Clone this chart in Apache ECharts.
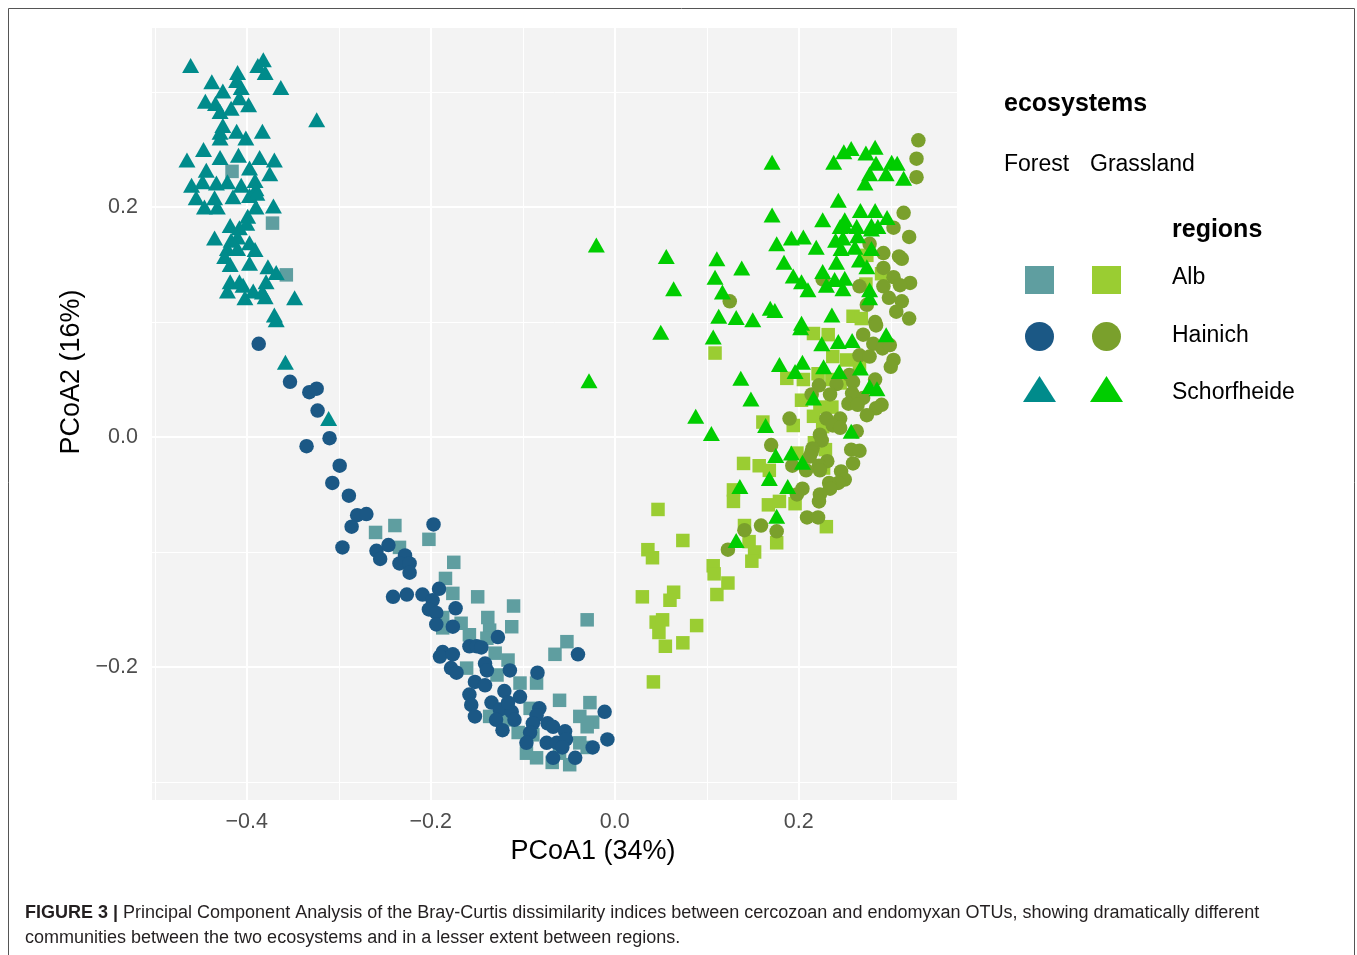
<!DOCTYPE html>
<html><head><meta charset="utf-8">
<script src="https://cdn.jsdelivr.net/npm/echarts@6/dist/echarts.min.js"></script>
<style>html,body{margin:0;padding:0;background:#fff}#c{width:1357px;height:955px}</style>
</head><body><div id="c"></div>
<script>
// ---- axis ticks ----
const xMajorTicks = [-0.4, -0.2, 0, 0.2];
const xMinorTicks = [-0.5, -0.3, -0.1, 0.1, 0.3];
const yMajorTicks = [-0.2, 0, 0.2];
const yMinorTicks = [-0.3, -0.1, 0.1, 0.3];
const xLimits = [-0.503, 0.372];
const yLimits = [-0.3157, 0.3557];

// ---- data: [PCoA1, PCoA2] ----
const forestAlb = [
[-0.416,0.231],[-0.372,0.186],[-0.357,0.141],
[-0.260,-0.083],[-0.239,-0.077],[-0.234,-0.096],[-0.202,-0.089],[-0.175,-0.109],[-0.184,-0.123],[-0.176,-0.136],[-0.149,-0.139],[-0.187,-0.157],[-0.187,-0.166],[-0.167,-0.162],[-0.158,-0.172],[-0.138,-0.157],[-0.136,-0.168],[-0.139,-0.175],[-0.130,-0.188],[-0.161,-0.201],
[-0.110,-0.147],[-0.112,-0.165],[-0.030,-0.159],[-0.052,-0.178],[-0.065,-0.189],[-0.116,-0.194],[-0.128,-0.207],[-0.103,-0.214],[-0.085,-0.214],[-0.060,-0.229],[-0.027,-0.231],[-0.038,-0.243],[-0.024,-0.248],[-0.030,-0.252],[-0.092,-0.236],[-0.136,-0.243],[-0.117,-0.246],[-0.105,-0.257],[-0.089,-0.259],[-0.085,-0.279],[-0.068,-0.283],[-0.049,-0.285],[-0.060,-0.275],[-0.038,-0.266],[-0.030,-0.270],[-0.096,-0.275]
];
const forestHainich = [
[-0.387,0.081],[-0.353,0.048],[-0.332,0.039],[-0.324,0.042],[-0.323,0.023],[-0.310,-0.001],[-0.335,-0.008],[-0.299,-0.025],[-0.307,-0.040],[-0.289,-0.051],[-0.280,-0.068],[-0.270,-0.067],[-0.286,-0.078],[-0.197,-0.076],[-0.296,-0.096],[-0.259,-0.099],[-0.246,-0.094],[-0.255,-0.106],[-0.228,-0.103],[-0.234,-0.110],[-0.223,-0.110],[-0.223,-0.118],[-0.191,-0.132],[-0.241,-0.139],[-0.226,-0.137],[-0.209,-0.137],[-0.198,-0.142],[-0.202,-0.150],[-0.194,-0.153],[-0.173,-0.149],[-0.194,-0.163],[-0.176,-0.165],[-0.158,-0.182],[-0.150,-0.182],[-0.145,-0.183],[-0.127,-0.174],[-0.187,-0.187],[-0.190,-0.191],[-0.176,-0.189],[-0.141,-0.197],[-0.139,-0.203],[-0.178,-0.201],[-0.172,-0.205],
[-0.114,-0.203],[-0.084,-0.205],[-0.040,-0.189],[-0.152,-0.213],[-0.141,-0.216],[-0.158,-0.224],[-0.156,-0.233],[-0.152,-0.243],[-0.120,-0.221],[-0.103,-0.226],[-0.134,-0.231],[-0.125,-0.237],[-0.112,-0.239],[-0.116,-0.231],[-0.109,-0.246],[-0.129,-0.246],[-0.122,-0.255],[-0.082,-0.236],[-0.085,-0.242],[-0.089,-0.249],[-0.073,-0.249],[-0.067,-0.252],[-0.092,-0.257],[-0.096,-0.266],[-0.074,-0.266],[-0.063,-0.266],[-0.054,-0.256],[-0.053,-0.263],[-0.057,-0.270],[-0.067,-0.279],[-0.043,-0.279],[-0.024,-0.270],[-0.011,-0.239],[-0.008,-0.263]
];
const forestSchorfheide = [
[-0.461,0.323],[-0.382,0.328],[-0.388,0.323],[-0.380,0.317],[-0.410,0.317],[-0.438,0.309],[-0.411,0.310],[-0.406,0.304],[-0.426,0.301],[-0.363,0.304],[-0.445,0.292],[-0.434,0.290],[-0.408,0.295],[-0.398,0.289],[-0.417,0.286],[-0.429,0.283],[-0.426,0.271],[-0.429,0.265],[-0.411,0.266],[-0.401,0.260],[-0.383,0.266],[-0.429,0.260],[-0.447,0.250],[-0.465,0.241],[-0.429,0.243],[-0.409,0.245],[-0.386,0.243],[-0.370,0.241],[-0.444,0.232],[-0.397,0.234],[-0.375,0.229],[-0.460,0.219],[-0.448,0.222],[-0.433,0.221],[-0.421,0.222],[-0.406,0.219],[-0.391,0.223],[-0.390,0.216],[-0.324,0.276],
[-0.455,0.208],[-0.446,0.200],[-0.435,0.208],[-0.432,0.200],[-0.415,0.209],[-0.397,0.210],[-0.389,0.212],[-0.390,0.200],[-0.371,0.201],[-0.399,0.192],[-0.400,0.186],[-0.418,0.184],[-0.408,0.182],[-0.435,0.173],[-0.410,0.174],[-0.417,0.171],[-0.397,0.169],[-0.421,0.164],[-0.391,0.163],[-0.410,0.164],[-0.424,0.157],[-0.418,0.150],[-0.397,0.151],[-0.377,0.148],[-0.368,0.143],[-0.418,0.135],[-0.408,0.135],[-0.404,0.132],[-0.379,0.135],[-0.421,0.127],[-0.393,0.127],[-0.383,0.126],[-0.402,0.121],[-0.380,0.122],[-0.348,0.121],[-0.370,0.106],[-0.368,0.102],[-0.358,0.065],[-0.311,0.016]
];
const grasslandAlb = [
[0.274,0.158],[0.290,0.142],[0.273,0.133],[0.259,0.105],[0.268,0.103],[0.216,0.090],[0.232,0.089],[0.237,0.070],[0.252,0.067],[0.266,0.064],[0.187,0.051],[0.205,0.050],[0.221,0.055],[0.236,0.050],[0.245,0.047],[0.203,0.032],[0.223,0.026],[0.236,0.026],[0.216,0.018],[0.194,0.010],[0.226,0.009],[0.161,0.013],[0.217,-0.005],[0.109,0.073],[0.140,-0.023],[0.157,-0.025],[0.168,-0.029],[0.129,-0.046],[0.129,-0.056],[0.167,-0.059],[0.179,-0.056],[0.196,-0.058],[0.141,-0.077],[0.146,-0.091],[0.152,-0.100],[0.149,-0.108],[0.176,-0.092],[0.047,-0.063],[0.074,-0.090],[0.036,-0.098],[0.041,-0.105],[0.107,-0.112],[0.108,-0.119],[0.123,-0.127],[0.111,-0.137],[0.030,-0.139],[0.064,-0.135],[0.060,-0.142],[0.045,-0.161],[0.052,-0.159],[0.048,-0.170],[0.089,-0.164],[0.055,-0.182],[0.074,-0.179],[0.042,-0.213],[0.198,-0.014],[0.229,-0.011],[0.227,-0.027],[0.230,-0.078]
];
const grasslandHainich = [
[0.125,0.118],[0.330,0.258],[0.328,0.242],[0.328,0.226],[0.314,0.195],[0.303,0.182],[0.320,0.174],[0.277,0.168],[0.292,0.160],[0.309,0.157],[0.312,0.155],[0.292,0.147],[0.303,0.139],[0.321,0.134],[0.310,0.132],[0.292,0.131],[0.266,0.131],[0.226,0.137],[0.298,0.121],[0.274,0.115],[0.312,0.118],[0.306,0.109],[0.320,0.103],[0.283,0.100],[0.284,0.097],[0.270,0.089],[0.281,0.081],[0.291,0.077],[0.299,0.080],[0.266,0.071],[0.277,0.070],[0.303,0.067],[0.300,0.061],[0.255,0.054],[0.222,0.045],[0.241,0.046],[0.259,0.048],[0.283,0.050],[0.234,0.037],[0.258,0.038],[0.270,0.034],[0.214,0.037],[0.254,0.029],[0.264,0.028],[0.284,0.025],[0.290,0.028],[0.274,0.019],[0.190,0.016],[0.230,0.016],[0.245,0.016],[0.237,0.010],[0.245,0.008],[0.223,0.002],[0.225,-0.003],[0.263,0.005],[0.170,-0.007],[0.215,-0.010],[0.257,-0.011],[0.266,-0.012],[0.214,-0.013],[0.231,-0.021],[0.212,-0.017],[0.222,-0.025],[0.223,-0.029],[0.193,-0.025],[0.208,-0.029],[0.259,-0.023],[0.246,-0.030],[0.250,-0.037],[0.243,-0.040],[0.233,-0.040],[0.234,-0.045],[0.223,-0.050],[0.222,-0.056],[0.204,-0.045],[0.198,-0.050],[0.209,-0.070],[0.221,-0.070],[0.159,-0.077],[0.176,-0.082],[0.141,-0.081],[0.123,-0.098]
];
const grasslandSchorfheide = [
[-0.020,0.167],[-0.028,0.049],[0.056,0.157],[0.111,0.155],[0.138,0.147],[0.109,0.139],[0.064,0.129],[0.117,0.126],[0.113,0.105],[0.132,0.104],[0.150,0.102],[0.050,0.091],[0.107,0.087],[0.137,0.051],[0.148,0.033],[0.088,0.018],[0.105,0.003],
[0.171,0.239],[0.238,0.239],[0.249,0.248],[0.257,0.251],[0.273,0.247],[0.283,0.252],[0.284,0.238],[0.301,0.239],[0.307,0.238],[0.277,0.229],[0.295,0.229],[0.314,0.225],[0.272,0.221],[0.243,0.206],[0.171,0.193],[0.226,0.189],[0.267,0.197],[0.283,0.197],[0.296,0.191],[0.250,0.189],[0.250,0.184],[0.245,0.183],[0.263,0.183],[0.279,0.184],[0.286,0.183],[0.176,0.168],[0.192,0.173],[0.205,0.174],[0.219,0.165],[0.240,0.171],[0.248,0.173],[0.264,0.175],[0.279,0.181],[0.246,0.164],[0.261,0.165],[0.184,0.152],[0.241,0.152],[0.266,0.154],[0.274,0.148],[0.279,0.164],[0.194,0.140],[0.203,0.135],[0.226,0.144],[0.239,0.137],[0.250,0.138],[0.230,0.132],
[0.210,0.128],[0.248,0.129],[0.277,0.128],[0.277,0.121],[0.169,0.112],[0.174,0.110],[0.236,0.106],[0.203,0.099],[0.202,0.095],[0.225,0.081],[0.243,0.083],[0.258,0.084],[0.295,0.089],[0.179,0.063],[0.204,0.065],[0.196,0.057],[0.227,0.061],[0.244,0.057],[0.267,0.060],[0.277,0.044],[0.285,0.042],[0.216,0.034],[0.164,0.010],[0.257,0.005],
[0.175,-0.016],[0.192,-0.014],[0.204,-0.022],[0.136,-0.043],[0.168,-0.036],[0.188,-0.043],[0.176,-0.069],[0.132,-0.090]
];

const FONT = "'Liberation Sans', Arial, Helvetica, sans-serif";
const fmt = v => (v < 0 ? '\u2212' : '') + Math.abs(v).toFixed(1);

const gridLines = [];
xMajorTicks.forEach(v => gridLines.push({xAxis: v, lineStyle: {width: 2}}));
xMinorTicks.forEach(v => gridLines.push({xAxis: v, lineStyle: {width: 1}}));
yMajorTicks.forEach(v => gridLines.push({yAxis: v, lineStyle: {width: 2}}));
yMinorTicks.forEach(v => gridLines.push({yAxis: v, lineStyle: {width: 1}}));

function pts(name, data, symbol, size, color) {
  return {name, type: 'scatter', data, symbol, symbolSize: size,
    itemStyle: {color, opacity: 1}, z: 3, silent: true};
}

const chart = echarts.init(document.getElementById('c'), null, {renderer: 'canvas'});
chart.setOption({
  animation: false,
  backgroundColor: '#ffffff',
  textStyle: {fontFamily: FONT},
  grid: {left: 152, top: 28, width: 805, height: 772, show: true,
    backgroundColor: '#f3f3f3', borderWidth: 0},
  xAxis: {type: 'value', min: xLimits[0], max: xLimits[1],
    splitLine: {show: false}, axisLine: {show: false},
    axisTick: {show: true, customValues: xMajorTicks, length: 6, lineStyle: {color: '#333', width: 1.5}},
    axisLabel: {customValues: xMajorTicks, formatter: fmt, fontSize: 21.5, color: '#4d4d4d', margin: 11, fontFamily: FONT},
    name: 'PCoA1 (34%)', nameLocation: 'middle', nameGap: 36,
    nameTextStyle: {fontSize: 27, color: '#000', fontFamily: FONT, padding: [0, 0, 0, 77]}},
  yAxis: {type: 'value', min: yLimits[0], max: yLimits[1],
    splitLine: {show: false}, axisLine: {show: false},
    axisTick: {show: true, customValues: yMajorTicks, length: 6, lineStyle: {color: '#333', width: 1.5}},
    axisLabel: {customValues: yMajorTicks, formatter: fmt, fontSize: 21.5, color: '#4d4d4d', margin: 14, fontFamily: FONT},
    name: 'PCoA2 (16%)', nameLocation: 'middle', nameGap: 64,
    nameTextStyle: {fontSize: 27, color: '#000', fontFamily: FONT, padding: [0, 0, 0, 84]}},
  series: [
    {name: 'grid', type: 'scatter', data: [], silent: true, z: 1,
      markLine: {silent: true, symbol: 'none', z: 1, animation: false, label: {show: false},
        lineStyle: {color: '#ffffff', type: 'solid'}, emphasis: {disabled: true}, data: gridLines}},
    pts('Forest Alb', forestAlb, 'rect', 13.5, '#5f9ea0'),
    pts('Forest Hainich', forestHainich, 'circle', 14.5, '#1b5885'),
    pts('Forest Schorfheide', forestSchorfheide, 'triangle', [17, 15], '#008b8b'),
    pts('Grassland Alb', grasslandAlb, 'rect', 13.5, '#9acd32'),
    pts('Grassland Hainich', grasslandHainich, 'circle', 14.5, '#7aa02c'),
    pts('Grassland Schorfheide', grasslandSchorfheide, 'triangle', [17, 15], '#00cd00')
  ],
  graphic: [
    {type: 'rect', shape: {x: 8.5, y: 8.5, width: 1346, height: 980}, style: {fill: 'none', stroke: '#555', lineWidth: 1}, silent: true},
    {type: 'text', x: 1004, y: 104, style: {text: 'ecosystems', font: 'bold 25px ' + FONT, fill: '#000', verticalAlign: 'middle'}},
    {type: 'text', x: 1004, y: 165, style: {text: 'Forest', font: '23px ' + FONT, fill: '#000', verticalAlign: 'middle'}},
    {type: 'text', x: 1090, y: 165, style: {text: 'Grassland', font: '23px ' + FONT, fill: '#000', verticalAlign: 'middle'}},
    {type: 'text', x: 1172, y: 230, style: {text: 'regions', font: 'bold 25px ' + FONT, fill: '#000', verticalAlign: 'middle'}},
    {type: 'rect', shape: {x: 1025, y: 266, width: 29, height: 28}, style: {fill: '#5f9ea0'}},
    {type: 'rect', shape: {x: 1092, y: 266, width: 29, height: 28}, style: {fill: '#9acd32'}},
    {type: 'circle', shape: {cx: 1039.5, cy: 336.5, r: 14.5}, style: {fill: '#1b5885'}},
    {type: 'circle', shape: {cx: 1106.5, cy: 336.5, r: 14.5}, style: {fill: '#7aa02c'}},
    {type: 'polygon', shape: {points: [[1039.5, 376], [1023, 402], [1056, 402]]}, style: {fill: '#008b8b'}},
    {type: 'polygon', shape: {points: [[1106.5, 376], [1090, 402], [1123, 402]]}, style: {fill: '#00cd00'}},
    {type: 'text', x: 1172, y: 278, style: {text: 'Alb', font: '23px ' + FONT, fill: '#000', verticalAlign: 'middle'}},
    {type: 'text', x: 1172, y: 336, style: {text: 'Hainich', font: '23px ' + FONT, fill: '#000', verticalAlign: 'middle'}},
    {type: 'text', x: 1172, y: 393, style: {text: 'Schorfheide', font: '23px ' + FONT, fill: '#000', verticalAlign: 'middle'}},
    {type: 'text', x: 25, y: 913, style: {
      text: '{b|FIGURE 3 |} Principal Component Analysis of the Bray-Curtis dissimilarity indices between cercozoan and endomyxan OTUs, showing dramatically different',
      font: '18px ' + FONT, fill: '#231f20', verticalAlign: 'middle',
      rich: {b: {fontWeight: 'bold', fontSize: 18, fontFamily: FONT, fill: '#231f20'}}}},
    {type: 'text', x: 25, y: 938, style: {
      text: 'communities between the two ecosystems and in a lesser extent between regions.',
      font: '18px ' + FONT, fill: '#231f20', verticalAlign: 'middle'}}
  ]
});
</script></body></html>
